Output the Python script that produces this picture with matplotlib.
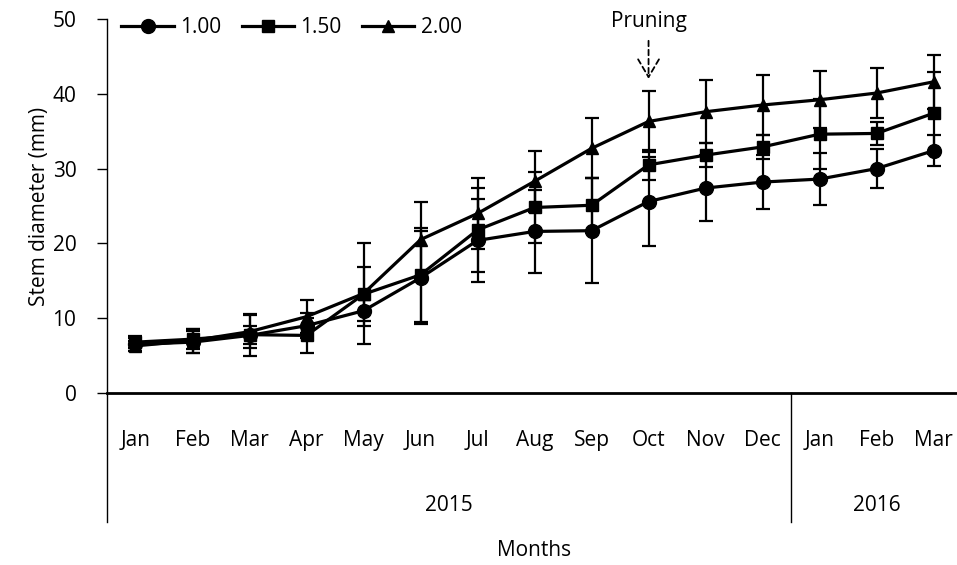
import matplotlib
matplotlib.use("Agg")
import matplotlib.pyplot as plt
from matplotlib.lines import Line2D
import numpy as np

plt.rcParams['font.family'] = ['Open Sans', 'DejaVu Sans']

months = ['Jan', 'Feb', 'Mar', 'Apr', 'May', 'Jun', 'Jul', 'Aug', 'Sep',
          'Oct', 'Nov', 'Dec', 'Jan', 'Feb', 'Mar']
years = ['2015', '2016']
year_spans = [(0, 12), (12, 15)]

# stem diameter (mm) per spacing treatment
d_100 = [6.5, 6.8, 7.7, 9.0, 11.0, 15.4, 20.4, 21.6, 21.7, 25.6, 27.4, 28.2, 28.6, 30.0, 32.4]
d_150 = [6.8, 7.2, 7.8, 7.7, 13.2, 15.8, 21.8, 24.8, 25.1, 30.5, 31.8, 32.9, 34.6, 34.7, 37.4]
d_200 = [6.3, 7.0, 8.2, 10.2, 13.3, 20.5, 24.0, 28.3, 32.7, 36.3, 37.6, 38.5, 39.2, 40.1, 41.6]

e_100 = [0.9, 1.5, 2.8, 1.7, 2.0, 6.2, 5.5, 5.6, 7.0, 6.0, 4.4, 3.6, 3.5, 2.6, 2.1]
e_150 = [0.8, 1.3, 1.2, 2.3, 3.6, 6.3, 5.6, 4.7, 3.7, 2.0, 1.6, 1.6, 4.7, 1.5, 5.5]
e_200 = [0.7, 1.6, 2.2, 2.2, 6.7, 5.0, 4.8, 4.1, 4.0, 4.1, 4.2, 4.0, 3.8, 3.4, 3.6]

series = [('1.00', d_100, e_100, 'o', 10),
          ('1.50', d_150, e_150, 's', 9),
          ('2.00', d_200, e_200, '^', 9)]

FS = 15

fig = plt.figure(figsize=(9.57, 5.65), dpi=100)
ax = fig.add_axes([0.1118, 0.3044, 0.8935, 0.662])

x = np.arange(len(months))
handles = []
for name, vals, errs, mk, ms in series:
    ax.errorbar(x, vals, yerr=errs, color='black', lw=2.3, marker=mk, ms=ms,
                capsize=5, elinewidth=1.6, capthick=1.6, clip_on=False, zorder=3)
    handles.append(Line2D([], [], color='black', lw=2.3, marker=mk, ms=ms))

ax.set_xlim(-0.5, len(months) - 0.5)
ax.set_ylim(0, 50)
ax.set_yticks(range(0, 51, 10))
ax.tick_params(axis='y', direction='out', length=7, width=1, labelsize=FS, pad=15)
ax.set_ylabel('Stem diameter (mm)', fontsize=FS, labelpad=2)

for s in ['top', 'right']:
    ax.spines[s].set_visible(False)
ax.spines['left'].set_linewidth(1)
ax.spines['bottom'].set_linewidth(2)

# two-level category axis
ax.set_xticks([])
trans = ax.get_xaxis_transform()
for i, m in enumerate(months):
    ax.text(i, -0.128, m, transform=trans, ha='center', va='center', fontsize=FS)
for yr, (a, b) in zip(years, year_spans):
    ax.text((a + b - 1) / 2, -0.30, yr, transform=trans, ha='center', va='center', fontsize=FS)
for edge in [-0.5, 11.5]:
    ax.add_line(Line2D([edge, edge], [0, -0.345], transform=trans, color='black',
                       lw=1, clip_on=False))
ax.text(7, -0.42, 'Months', transform=trans, ha='center', va='center', fontsize=FS)

# pruning marker
ax.annotate('Pruning', xy=(9, 42.0), xytext=(9, 49.6), ha='center', va='center',
            fontsize=FS,
            arrowprops=dict(arrowstyle='->,head_width=0.5,head_length=0.85',
                            linestyle=(0, (3, 2)), color='black', lw=1.3,
                            shrinkA=4, shrinkB=0))

ax.legend(handles, [s[0] for s in series], loc='upper left', ncol=3, frameon=False,
          bbox_to_anchor=(-0.005, 1.055), fontsize=FS, handlelength=2.5,
          columnspacing=1.0, handletextpad=0.3)

fig.savefig('out.png', dpi=100)
